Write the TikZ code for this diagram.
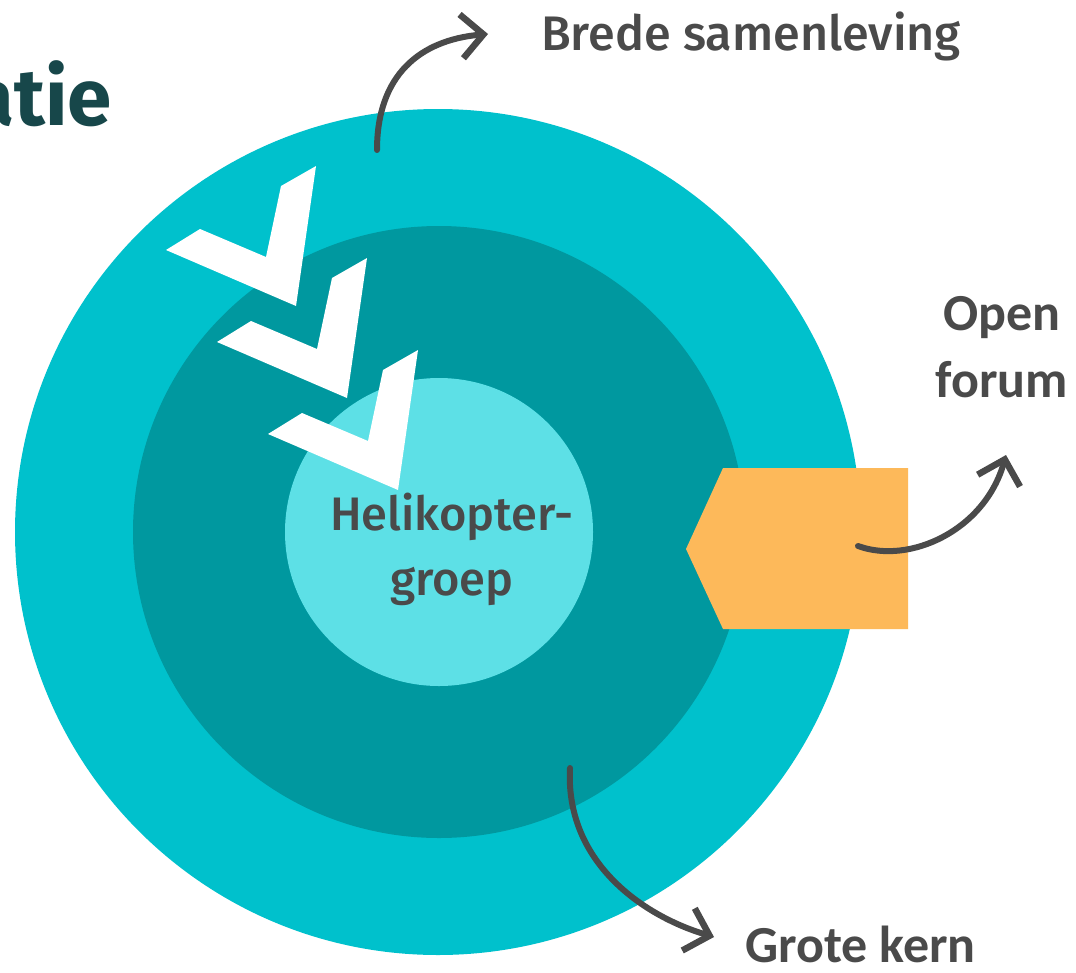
\documentclass[tikz,border=0pt]{standalone}
\usepackage{fontspec}
\setmainfont{Fira Sans}
\newfontfamily\calfont{Carlito}
\newfontfamily\medfont{Fira Sans Medium}
\usetikzlibrary{arrows.meta}
\definecolor{outerc}{HTML}{00C1CC}
\definecolor{midc}{HTML}{00989F}
\definecolor{innerc}{HTML}{5DE0E6}
\definecolor{orangec}{HTML}{FDB95A}
\definecolor{txtc}{HTML}{4A4A4A}
\definecolor{titlec}{HTML}{17474A}
\definecolor{arrowc}{HTML}{4A4A4A}
\begin{document}
\begin{tikzpicture}[x=1pt,y=-1pt,
  ring/.style={circle, inner sep=0pt, draw=none},
  conn/.style={draw=arrowc, line width=6pt, line cap=round,
    -{Straight Barb[length=22pt,width=44pt,line width=6.5pt]}},
  lbl/.style={text=txtc, inner sep=0pt},
  chev/.style={fill=white, draw=none}]
\useasboundingbox (0,0) rectangle (1076,972);
\fill[white] (0,0) rectangle (1076,972);
% rings
\node[ring, fill=outerc, minimum size=846pt] (outer) at (438,532) {};
\node[ring, fill=midc, minimum size=612pt] (middle) at (439,532) {};
\node[ring, fill=innerc, minimum size=308pt] (inner) at (439,532) {};
% chevrons
\foreach \dx/\dy in {0/0, 51/92, 102/184}{
  \fill[chev, shift={(\dx,\dy)}] (166,250) -- (200,229) -- (266,257) -- (281,186)
     -- (316,166) -- (296,306) -- cycle;
}
% orange tab
\fill[orangec] (723,468) -- (908,468) -- (908,629) -- (723,629) -- (686,549) -- cycle;
% title
\node[anchor=base east, inner sep=0pt, text=titlec, font=\fontsize{80}{90}\selectfont\bfseries] (title) at (112,125) {atie};
% labels
\node[lbl, anchor=base west, font=\medfont\fontsize{48.5}{58}\selectfont] (brede) at (541,50) {Brede samenleving};
\node[lbl, anchor=base, align=center, font=\calfont\bfseries\fontsize{52}{67}\selectfont] (open) at (1002,397) {Open\\forum};
\node[lbl, anchor=base west, font=\calfont\bfseries\fontsize{52}{62}\selectfont] (grote) at (745,962) {Grote kern};
\node[lbl, anchor=base, align=center, font=\medfont\fontsize{47}{65}\selectfont] (heli) at (452,595) {Helikopter-\\groep};
% connectors
\coordinate (a1s) at (377,150);
\coordinate (a1e) at (488,34);
\coordinate (a2s) at (858,546);
\coordinate (a2e) at (1006,455);
\coordinate (a3s) at (570,768);
\coordinate (a3e) at (714,937);
\draw[conn] (a1s) .. controls (377,75) and (420,40) .. (a1e);
\draw[conn] (a2s) .. controls (910,565) and (985,530) .. (a2e);
\draw[conn] (a3s) .. controls (565,860) and (640,915) .. (a3e);
\end{tikzpicture}
\end{document}
